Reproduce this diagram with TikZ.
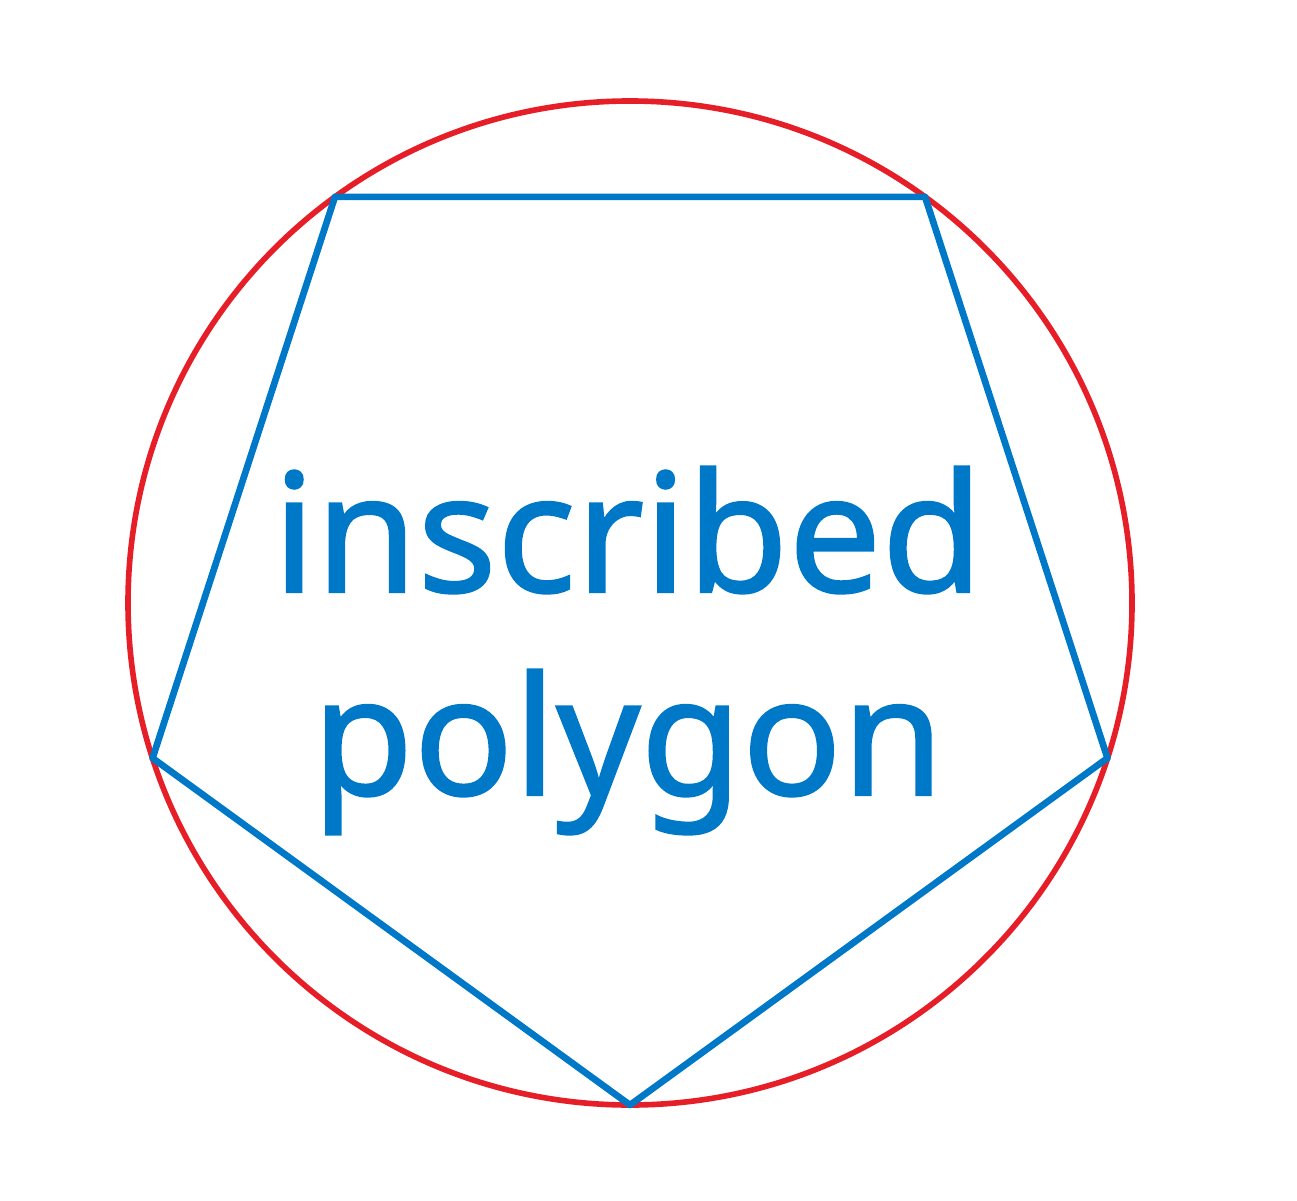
\documentclass[tikz,border=0pt]{standalone}
\usepackage{fontspec}
\setmainfont{Noto Sans}[FakeBold=1.2]
\usetikzlibrary{calc}
\definecolor{ringred}{RGB}{230,30,40}
\definecolor{polyblue}{RGB}{0,120,200}
\begin{document}
\begin{tikzpicture}
\useasboundingbox (0,0) rectangle (12.97,12);
\coordinate (c) at (6.30,5.97);
\draw[ringred,line width=1.6pt] (c) circle (5.02);
\foreach \i in {0,...,4}
  \coordinate (p\i) at ($(c)+(-90+72*\i:5.02)$);
\draw[polyblue,line width=1.9pt,line join=round] (p0) -- (p1) -- (p2) -- (p3) -- (p4) -- cycle;
\node[anchor=base,text=polyblue,font=\bfseries\fontsize{47}{56}\selectfont] (top) at (6.28,6.08) {inscribed};
\node[anchor=base,text=polyblue,font=\bfseries\fontsize{47}{56}\selectfont] (bot) at (6.28,4.05) {polygon};
\end{tikzpicture}
\end{document}
